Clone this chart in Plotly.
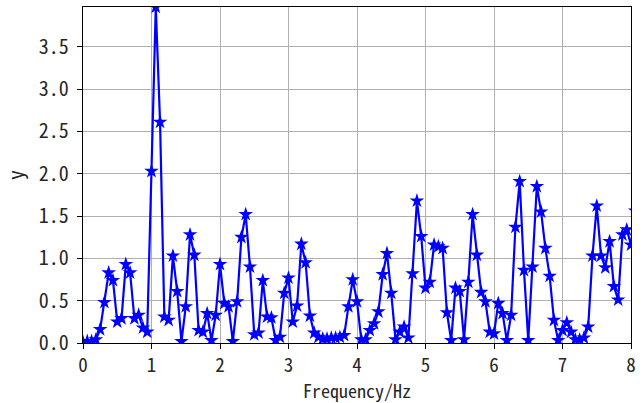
import numpy as np
import plotly.graph_objects as go

# frequency resolution (Hz) and amplitude readings
df = 1.0 / 16.0
amplitude = [
    0.01, 0.02, 0.02, 0.04, 0.16, 0.48, 0.83, 0.74, 0.25, 0.29,
    0.93, 0.83, 0.29, 0.33, 0.18, 0.13, 2.03, 3.97, 2.61, 0.31,
    0.27, 1.03, 0.61, 0.02, 0.43, 1.28, 1.04, 0.15, 0.13, 0.35,
    0.03, 0.33, 0.93, 0.47, 0.43, 0.02, 0.49, 1.25, 1.52, 0.90,
    0.10, 0.12, 0.74, 0.31, 0.30, 0.03, 0.07, 0.59, 0.77, 0.25,
    0.44, 1.17, 0.95, 0.32, 0.12, 0.07, 0.05, 0.05, 0.06, 0.06,
    0.07, 0.09, 0.43, 0.75, 0.49, 0.04, 0.04, 0.15, 0.23, 0.37,
    0.81, 1.06, 0.59, 0.04, 0.13, 0.19, 0.06, 0.82, 1.68, 1.26,
    0.65, 0.72, 1.16, 1.14, 1.12, 0.36, 0.03, 0.65, 0.61, 0.04,
    0.72, 1.52, 1.04, 0.60, 0.49, 0.13, 0.11, 0.47, 0.35, 0.03,
    0.33, 1.37, 1.91, 0.86, 0.03, 0.90, 1.85, 1.55, 1.12, 0.79,
    0.27, 0.03, 0.15, 0.24, 0.13, 0.04, 0.04, 0.06, 0.19, 1.03,
    1.62, 1.03, 0.89, 1.20, 0.67, 0.51, 1.28, 1.34, 1.16, 1.56,
    1.30,
]
frequency = np.arange(len(amplitude)) * df

x_ticks = [0, 1, 2, 3, 4, 5, 6, 7, 8]
y_ticks = [0.0, 0.5, 1.0, 1.5, 2.0, 2.5, 3.0, 3.5]
x_title = "Frequency/Hz"
y_title = "y"

font_family = "Noto Sans Mono CJK SC, Liberation Mono, monospace"
text_color = "#262626"

fig = go.Figure(
    go.Scatter(
        x=frequency,
        y=amplitude,
        mode="lines+markers",
        line=dict(color="#0000ff", width=2.2),
        marker=dict(symbol="star", size=11, color="#0000ff",
                    line=dict(width=0)),
        cliponaxis=True,
        showlegend=False,
    )
)

axis_common = dict(
    showgrid=True,
    gridcolor="#b0b0b0",
    gridwidth=1,
    showline=True,
    linecolor="black",
    linewidth=1.3,
    mirror=True,
    ticks="outside",
    ticklen=5,
    tickwidth=1.2,
    tickcolor="black",
    zeroline=False,
    automargin=False,
    tickfont=dict(family=font_family, size=20, color=text_color),
)

fig.update_layout(
    width=644,
    height=403,
    margin=dict(l=83, r=13, t=7, b=60),
    paper_bgcolor="white",
    plot_bgcolor="white",
    font=dict(family=font_family, size=20, color=text_color),
    xaxis=dict(
        range=[0, 8],
        tickvals=x_ticks,
        ticktext=[str(v) for v in x_ticks],
        ticklabelstandoff=0,
        **{**axis_common,
           "tickfont": dict(family=font_family, size=19, color=text_color)},
    ),
    yaxis=dict(
        range=[0, 3.97],
        tickvals=y_ticks,
        ticktext=[f"{v:.1f}" for v in y_ticks],
        ticklabelstandoff=4,
        title=dict(text=y_title, standoff=10,
                   font=dict(family=font_family, size=20, color=text_color)),
        **axis_common,
    ),
    annotations=[
        dict(
            text=x_title,
            xref="paper", yref="paper",
            x=0.5, y=-47 / 336,
            xanchor="center", yanchor="middle",
            showarrow=False,
            font=dict(family=font_family, size=18, color=text_color),
        )
    ],
)

fig.write_html("out.html")
